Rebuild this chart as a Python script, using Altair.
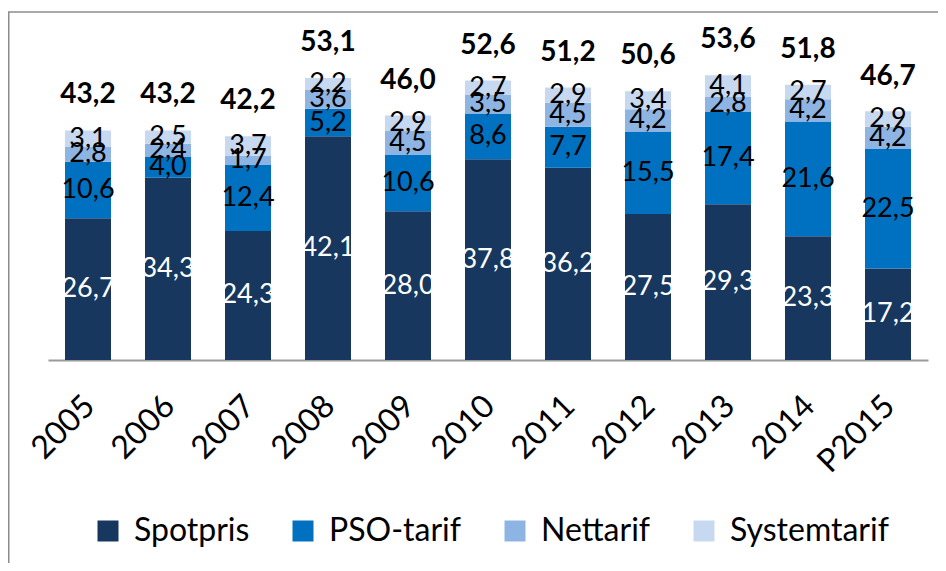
import altair as alt
import pandas as pd

years = ["2005", "2006", "2007", "2008", "2009", "2010", "2011", "2012", "2013", "2014", "P2015"]
series = ["Spotpris", "PSO-tarif", "Nettarif", "Systemtarif"]
spotpris = [26.7, 34.3, 24.3, 42.1, 28.0, 37.8, 36.2, 27.5, 29.3, 23.3, 17.2]
pso_tarif = [10.6, 4.0, 12.4, 5.2, 10.6, 8.6, 7.7, 15.5, 17.4, 21.6, 22.5]
nettarif = [2.8, 2.4, 1.7, 3.6, 4.5, 3.5, 4.5, 4.2, 2.8, 4.2, 4.2]
systemtarif = [3.1, 2.5, 3.7, 2.2, 2.9, 2.7, 2.9, 3.4, 4.1, 2.7, 2.9]
totals = [43.2, 43.2, 42.2, 53.1, 46.0, 52.6, 51.2, 50.6, 53.6, 51.8, 46.7]
colors = ["#17375E", "#0070C0", "#8DB4E2", "#C6D9F1"]

rows = []
for i, yr in enumerate(years):
    for k, vals in enumerate([spotpris, pso_tarif, nettarif, systemtarif]):
        rows.append({"year": yr, "series": series[k], "order": k, "value": vals[i]})
df = pd.DataFrame(rows)
tot = pd.DataFrame({"year": years, "total": totals})

FONT = "Lato"

xenc = alt.X(
    "year:N", sort=years, title=None,
    scale=alt.Scale(paddingInner=0.425, paddingOuter=0.2125),
    axis=alt.Axis(labelAngle=-45, labelFontSize=32, labelFont=FONT, labelColor="black",
                  ticks=False, domainColor="#9a9a9a", domainWidth=2, labelPadding=30,
                  labelOffset=-9, grid=False),
)
yscale = alt.Scale(domain=[0, 65.5], nice=False, zero=True)

base = alt.Chart(df).transform_stack(
    stack="value", groupby=["year"], as_=["y0", "y1"],
    sort=[alt.SortField("order", order="ascending")],
).transform_calculate(
    mid="(datum.y0 + datum.y1) / 2",
    label="replace(format(datum.value, '.1f'), '.', ',')",
)

bars = base.mark_bar().encode(
    x=xenc,
    y=alt.Y("y0:Q", scale=yscale, axis=None),
    y2="y1:Q",
    color=alt.Color(
        "series:N",
        scale=alt.Scale(domain=series, range=colors),
        legend=alt.Legend(
            title=None, orient="none", legendX=44, legendY=503, direction="horizontal",
            symbolType="square", symbolSize=441, symbolStrokeWidth=0,
            labelFont=FONT, labelFontSize=32, labelColor="black",
            columnPadding=37, labelOffset=10, labelLimit=0,
        ),
    ),
)

labels = base.mark_text(font=FONT, fontSize=27).encode(
    x=xenc,
    y=alt.Y("mid:Q", scale=yscale, axis=None),
    text="label:N",
    color=alt.condition(alt.datum.series == "Spotpris", alt.value("white"), alt.value("black")),
)

total_labels = alt.Chart(tot).transform_calculate(
    label="replace(format(datum.total, '.1f'), '.', ',')"
).mark_text(font=FONT, fontSize=28, fontWeight="bold", dy=-27, baseline="alphabetic", color="black").encode(
    x=xenc,
    y=alt.Y("total:Q", scale=yscale, axis=None),
    text="label:N",
)

frame_df = pd.DataFrame({"k": [0]})
frame_top = alt.Chart(frame_df).mark_rule(color="#8c8c8c", strokeWidth=1.5).encode(
    x=alt.value(-40), x2=alt.value(890), y=alt.value(0)
)
frame_left = alt.Chart(frame_df).mark_rule(color="#8c8c8c", strokeWidth=2).encode(
    x=alt.value(-39.5), y=alt.value(0), y2=alt.value(551)
)

chart = alt.layer(bars, labels, total_labels, frame_top, frame_left).properties(
    width=880, height=348,
    autosize=alt.AutoSizeParams(type="none"),
    padding={"left": 40, "top": 4, "right": 10, "bottom": 203},
).configure_view(stroke=None)

chart.save("out.html", embed_options={"renderer": "svg", "actions": False})
